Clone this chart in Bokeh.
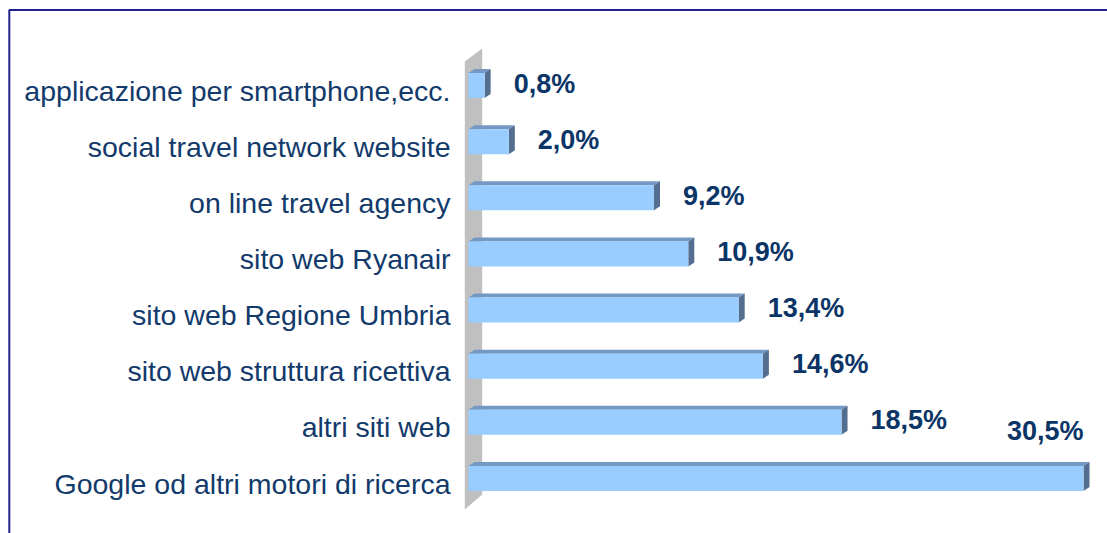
from bokeh.plotting import figure
from bokeh.models import ColumnDataSource, Range1d
from bokeh.core.properties import value
from bokeh.embed import file_html
from bokeh.resources import INLINE

# ---- data (bottom to top) ----
categories = [
    "Google od altri motori di ricerca",
    "altri siti web",
    "sito web struttura ricettiva",
    "sito web Regione Umbria",
    "sito web Ryanair",
    "on line travel agency",
    "social travel network website",
    "applicazione per smartphone,ecc.",
]
values = [30.5, 18.5, 14.6, 13.4, 10.9, 9.2, 2.0, 0.8]
value_labels = [("%.1f%%" % v).replace(".", ",") for v in values]

# ---- geometry / styles ----
W, H = 1107, 533
PX_X = 20.164   # pixels per percent
PX_Y = 56.14    # pixels per category step
X0 = -468 / PX_X
Y0 = -(H - 478) / PX_Y
x_range = Range1d(X0, X0 + W / PX_X)
y_range = Range1d(Y0, Y0 + H / PX_Y)

HALF = 12.5 / PX_Y
DX = 6 / PX_X
DY = 4 / PX_Y

FRONT = "#99CCFF"
TOP = "#7398C4"
SIDE = "#546E90"
WALL = "#C0C0C0"
TXT = "#123A6B"
VAL = "#0B3566"
BORDER = "#22228C"

p = figure(width=W, height=H, x_range=x_range, y_range=y_range,
           output_backend="svg", toolbar_location=None,
           x_axis_location=None, y_axis_location=None,
           min_border=0, outline_line_color=None,
           background_fill_color="white", border_fill_color="white")
p.grid.visible = False

# frame border (left + top), running off the right and bottom edges
xl = X0 + 8.8 / PX_X
yt = y_range.end - 9.5 / PX_Y
p.line([xl, xl, x_range.end + 1], [Y0 - 1, yt, yt], line_color=BORDER, line_width=2)

# 3D wall behind bars
wx0, wx1 = -3.7 / PX_X, 13.7 / PX_X
p.patch([wx0, wx1, wx1, wx0],
        [-31 / PX_Y, -16 / PX_Y, 430 / PX_Y, 417 / PX_Y],
        fill_color=WALL, line_color=None)

ys = list(range(len(values)))
src = ColumnDataSource(dict(
    y=ys, v=values, cat=categories, lab=value_labels,
    bottom=[y - HALF for y in ys], top=[y + HALF for y in ys],
))

# top faces
top_xs = [[0, v, v + DX, DX] for v in values]
top_ys = [[y + HALF, y + HALF, y + HALF + DY, y + HALF + DY] for y in ys]
p.patches(top_xs, top_ys, fill_color=TOP, line_color=None)
# side faces
side_xs = [[v, v + DX, v + DX, v] for v in values]
side_ys = [[y - HALF, y - HALF + DY, y + HALF + DY, y + HALF] for y in ys]
p.patches(side_xs, side_ys, fill_color=SIDE, line_color=None)
# fronts
p.quad(left=0, right="v", bottom="bottom", top="top", source=src,
       fill_color=FRONT, line_color=None)

# category labels
p.text(x=0, y="y", text="cat", source=src, x_offset=-18, y_offset=5,
       text_align="right", text_baseline="alphabetic",
       text_font=value("Liberation Sans"), text_font_size="28.5px",
       text_color=TXT)

# value labels
vmax = max(values)
inner = ColumnDataSource(dict(
    y=[y for y, v in zip(ys, values) if v != vmax],
    v=[v for v in values if v != vmax],
    lab=[l for l, v in zip(value_labels, values) if v != vmax],
))
outer = ColumnDataSource(dict(
    y=[y for y, v in zip(ys, values) if v == vmax],
    v=[v for v in values if v == vmax],
    lab=[l for l, v in zip(value_labels, values) if v == vmax],
))
p.text(x="v", y="y", text="lab", source=inner, x_offset=29, y_offset=-2,
       text_align="left", text_baseline="alphabetic",
       text_font=value("Liberation Sans"), text_font_size="27px",
       text_font_style="bold", text_color=VAL)
p.text(x="v", y="y", text="lab", source=outer, x_offset=0, y_offset=-48,
       text_align="right", text_baseline="alphabetic",
       text_font=value("Liberation Sans"), text_font_size="27px",
       text_font_style="bold", text_color=VAL)

open("out.html", "w").write(file_html(p, INLINE))
